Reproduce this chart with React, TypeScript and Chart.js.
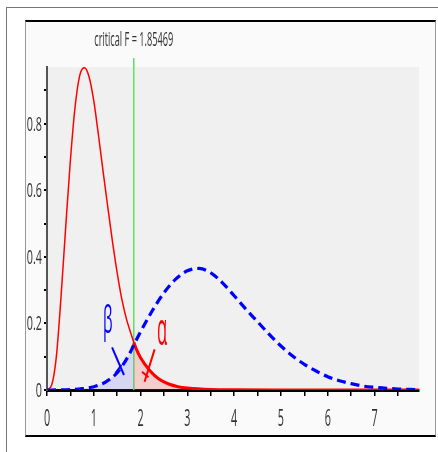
import React, { useEffect, useRef } from "react";
import { Chart, registerables } from "chart.js";

Chart.register(...registerables);

// ---- data ----
const CRITICAL_F = 1.85469;
const TITLE_TEXT = "critical F = 1.85469";

// central F density (red)
const RED_X = [0, 0.1, 0.2, 0.3, 0.4, 0.5, 0.6, 0.7, 0.8, 0.9, 1.0, 1.1, 1.2, 1.3, 1.4, 1.5, 1.6, 1.7, 1.8, 1.85469, 1.9, 2.0, 2.2, 2.4, 2.6, 2.8, 3.0, 3.5, 4.0, 5.0, 6.0, 7.0, 7.95];
const RED_Y = [0, 0.015, 0.1, 0.28, 0.49, 0.69, 0.85, 0.945, 0.968, 0.94, 0.868, 0.765, 0.655, 0.548, 0.445, 0.352, 0.272, 0.212, 0.167, 0.143, 0.126, 0.097, 0.058, 0.032, 0.018, 0.01, 0.006, 0.0015, 0.0004, 0, 0, 0, 0];

// noncentral F density (blue, dashed)
const BLUE_X = [0, 0.25, 0.5, 0.75, 1.0, 1.25, 1.5, 1.75, 1.85469, 2.0, 2.25, 2.5, 2.75, 3.0, 3.25, 3.5, 3.75, 4.0, 4.25, 4.5, 4.75, 5.0, 5.25, 5.5, 5.75, 6.0, 6.25, 6.5, 6.75, 7.0, 7.25, 7.5, 7.75, 7.95];
const BLUE_Y = [0, 0.0002, 0.001, 0.004, 0.01, 0.024, 0.052, 0.105, 0.135, 0.175, 0.238, 0.292, 0.333, 0.358, 0.365, 0.352, 0.322, 0.283, 0.243, 0.205, 0.167, 0.132, 0.102, 0.077, 0.057, 0.04, 0.028, 0.019, 0.012, 0.008, 0.005, 0.003, 0.002, 0.001];

// axis ticks
const X_MIN = 0;
const X_MAX = 7.95;
const Y_MIN = 0;
const Y_MAX = 0.97;
const X_TICK_VALUES = [0, 1, 2, 3, 4, 5, 6, 7];
const X_TICK_LABELS = ["0", "1", "2", "3", "4", "5", "6", "7"];
const Y_TICK_VALUES = [0, 0.2, 0.4, 0.6, 0.8];
const Y_TICK_LABELS = ["0", "0.2", "0.4", "0.6", "0.8"];

// annotations (data coordinates)
const BETA_TEXT = "β";
const ALPHA_TEXT = "α";
const BETA_AT = [1.3, 0.205];
const ALPHA_AT = [2.46, 0.175];
const BETA_STROKE_X = [1.39, 1.645];
const BETA_STROKE_Y = [0.128, 0.045];
const BETA_CROSS_X = [1.46, 1.59];
const BETA_CROSS_Y = [0.05, 0.075];
const ALPHA_STROKE_X = [2.3, 2.085];
const ALPHA_STROKE_Y = [0.122, 0.025];
const ALPHA_CROSS_X = [2.03, 2.17];
const ALPHA_CROSS_Y = [0.055, 0.038];

const FONT = "'Open Sans', 'Noto Sans', sans-serif";

function pts(xs: number[], ys: number[]) {
  return xs.map((x, i) => ({ x, y: ys[i] }));
}

function squeezed(
  ctx: CanvasRenderingContext2D,
  text: string,
  x: number,
  y: number,
  sx: number,
  size: number,
  color: string,
  align: CanvasTextAlign,
  baseline: CanvasTextBaseline
) {
  ctx.save();
  ctx.translate(x, y);
  ctx.scale(sx, 1);
  ctx.font = `${size}px ${FONT}`;
  ctx.fillStyle = color;
  ctx.textAlign = align;
  ctx.textBaseline = baseline;
  ctx.fillText(text, 0, 0);
  ctx.restore();
}

export default function App() {
  const ref = useRef<HTMLCanvasElement | null>(null);

  useEffect(() => {
    const canvas = ref.current;
    if (!canvas) return;
    const red = pts(RED_X, RED_Y);
    const blue = pts(BLUE_X, BLUE_Y);
    const redTail = red.filter((p) => p.x >= CRITICAL_F);
    const blueHead = blue.filter((p) => p.x <= CRITICAL_F);

    const bgPlugin = {
      id: "plotBg",
      beforeDraw(chart: any) {
        const { ctx, chartArea } = chart;
        ctx.save();
        ctx.fillStyle = "#f0f0f0";
        ctx.fillRect(chartArea.left, chartArea.top, chartArea.right - chartArea.left, chartArea.bottom - chartArea.top);
        ctx.restore();
      },
      beforeDatasetsDraw(chart: any) {
        const { ctx, chartArea, scales } = chart;
        const gx = scales.x.getPixelForValue(CRITICAL_F);
        ctx.save();
        ctx.strokeStyle = "#5ee05e";
        ctx.lineWidth = 1.5;
        ctx.beginPath();
        ctx.moveTo(gx, chartArea.top - 9);
        ctx.lineTo(gx, chartArea.bottom);
        ctx.stroke();
        ctx.restore();
      },
    };

    const textPlugin = {
      id: "texts",
      afterDraw(chart: any) {
        const { ctx, chartArea, scales } = chart;
        const xs = scales.x;
        const ys = scales.y;
        X_TICK_VALUES.forEach((v, i) => {
          squeezed(ctx, X_TICK_LABELS[i], xs.getPixelForValue(v), chartArea.bottom + 35.5, 0.45, 24, "#333", "center", "alphabetic");
        });
        Y_TICK_VALUES.forEach((v, i) => {
          squeezed(ctx, Y_TICK_LABELS[i], chartArea.left - 5, ys.getPixelForValue(v) + 7, 0.54, 20, "#333", "right", "alphabetic");
        });
        squeezed(ctx, TITLE_TEXT, xs.getPixelForValue(CRITICAL_F), chartArea.top - 21, 0.46, 20, "#333", "center", "alphabetic");
        squeezed(ctx, BETA_TEXT, xs.getPixelForValue(BETA_AT[0]), ys.getPixelForValue(BETA_AT[1]), 0.4, 38, "#0000ff", "center", "middle");
        squeezed(ctx, ALPHA_TEXT, xs.getPixelForValue(ALPHA_AT[0]), ys.getPixelForValue(ALPHA_AT[1]), 0.36, 46, "#ff0000", "center", "middle");
      },
    };

    const line = (data: any[], extra: any) => ({
      data,
      pointRadius: 0,
      fill: false,
      ...extra,
    });

    const chart = new Chart(canvas, {
      type: "line",
      data: {
        datasets: [
          line(blueHead, { order: 10, borderWidth: 0, borderColor: "rgba(0,0,0,0)", backgroundColor: "rgba(80,80,255,0.16)", fill: "origin", cubicInterpolationMode: "monotone" }),
          line(redTail, { order: 9, borderWidth: 3, borderColor: "#ff0000", backgroundColor: "rgba(255,60,60,0.2)", fill: "origin", cubicInterpolationMode: "monotone" }),
          line(red, { order: 8, borderWidth: 1.5, borderColor: "#ff0000", cubicInterpolationMode: "monotone" }),
          line(blue, { order: 7, borderWidth: 3.2, borderColor: "#0000ff", borderDash: [9, 5], cubicInterpolationMode: "monotone" }),
          line(pts(BETA_STROKE_X, BETA_STROKE_Y), { order: 2, borderWidth: 2, borderColor: "#0000ff", tension: 0 }),
          line(pts(BETA_CROSS_X, BETA_CROSS_Y), { order: 2, borderWidth: 2, borderColor: "#0000ff", tension: 0 }),
          line(pts(ALPHA_STROKE_X, ALPHA_STROKE_Y), { order: 2, borderWidth: 2, borderColor: "#ff0000", tension: 0 }),
          line(pts(ALPHA_CROSS_X, ALPHA_CROSS_Y), { order: 2, borderWidth: 2, borderColor: "#ff0000", tension: 0 }),
        ],
      },
      options: {
        responsive: false,
        animation: false,
        devicePixelRatio: 1,
        layout: { padding: { top: 45, right: 16, left: 0, bottom: 0 } },
        plugins: {
          legend: { display: false },
          tooltip: { enabled: false },
          title: { display: false },
        },
        scales: {
          x: {
            type: "linear",
            min: X_MIN,
            max: X_MAX,
            afterFit: (s: any) => {
              s.height = 45;
            },
            ticks: { display: false, stepSize: 0.5, includeBounds: false, autoSkip: false },
            grid: { display: true, drawOnChartArea: false, drawTicks: true, tickLength: 6, color: "#000", lineWidth: 1.5 },
            border: { display: true, color: "#000", width: 3 },
          },
          y: {
            type: "linear",
            min: Y_MIN,
            max: Y_MAX,
            afterFit: (s: any) => {
              s.width = 21;
            },
            ticks: { display: false, stepSize: 0.1, includeBounds: false, autoSkip: false },
            grid: { display: true, drawOnChartArea: false, drawTicks: true, tickLength: 3, color: "#000", lineWidth: 2 },
            border: { display: true, color: "#555", width: 2 },
          },
        },
      } as any,
      plugins: [bgPlugin, textPlugin],
    });
    return () => chart.destroy();
  }, []);

  return (
    <div style={{ position: "fixed", left: 0, top: 0, width: 438, height: 452, background: "#fff", overflow: "hidden" }}>
      <div style={{ position: "absolute", left: 6, top: 7, width: 432, height: 1, background: "#777" }} />
      <div style={{ position: "absolute", left: 6, top: 7, width: 1, height: 445, background: "#777" }} />
      <div
        style={{
          position: "absolute",
          left: 25,
          top: 20,
          width: 411,
          height: 417,
          boxSizing: "border-box",
          background: "#fafafa",
          borderLeft: "1px solid #999",
          borderRight: "1px solid #999",
          borderTop: "2px solid #000",
          borderBottom: "2px solid #000",
        }}
      >
        <canvas ref={ref} width={409} height={413} style={{ display: "block", width: 409, height: 413 }} />
      </div>
    </div>
  );
}
